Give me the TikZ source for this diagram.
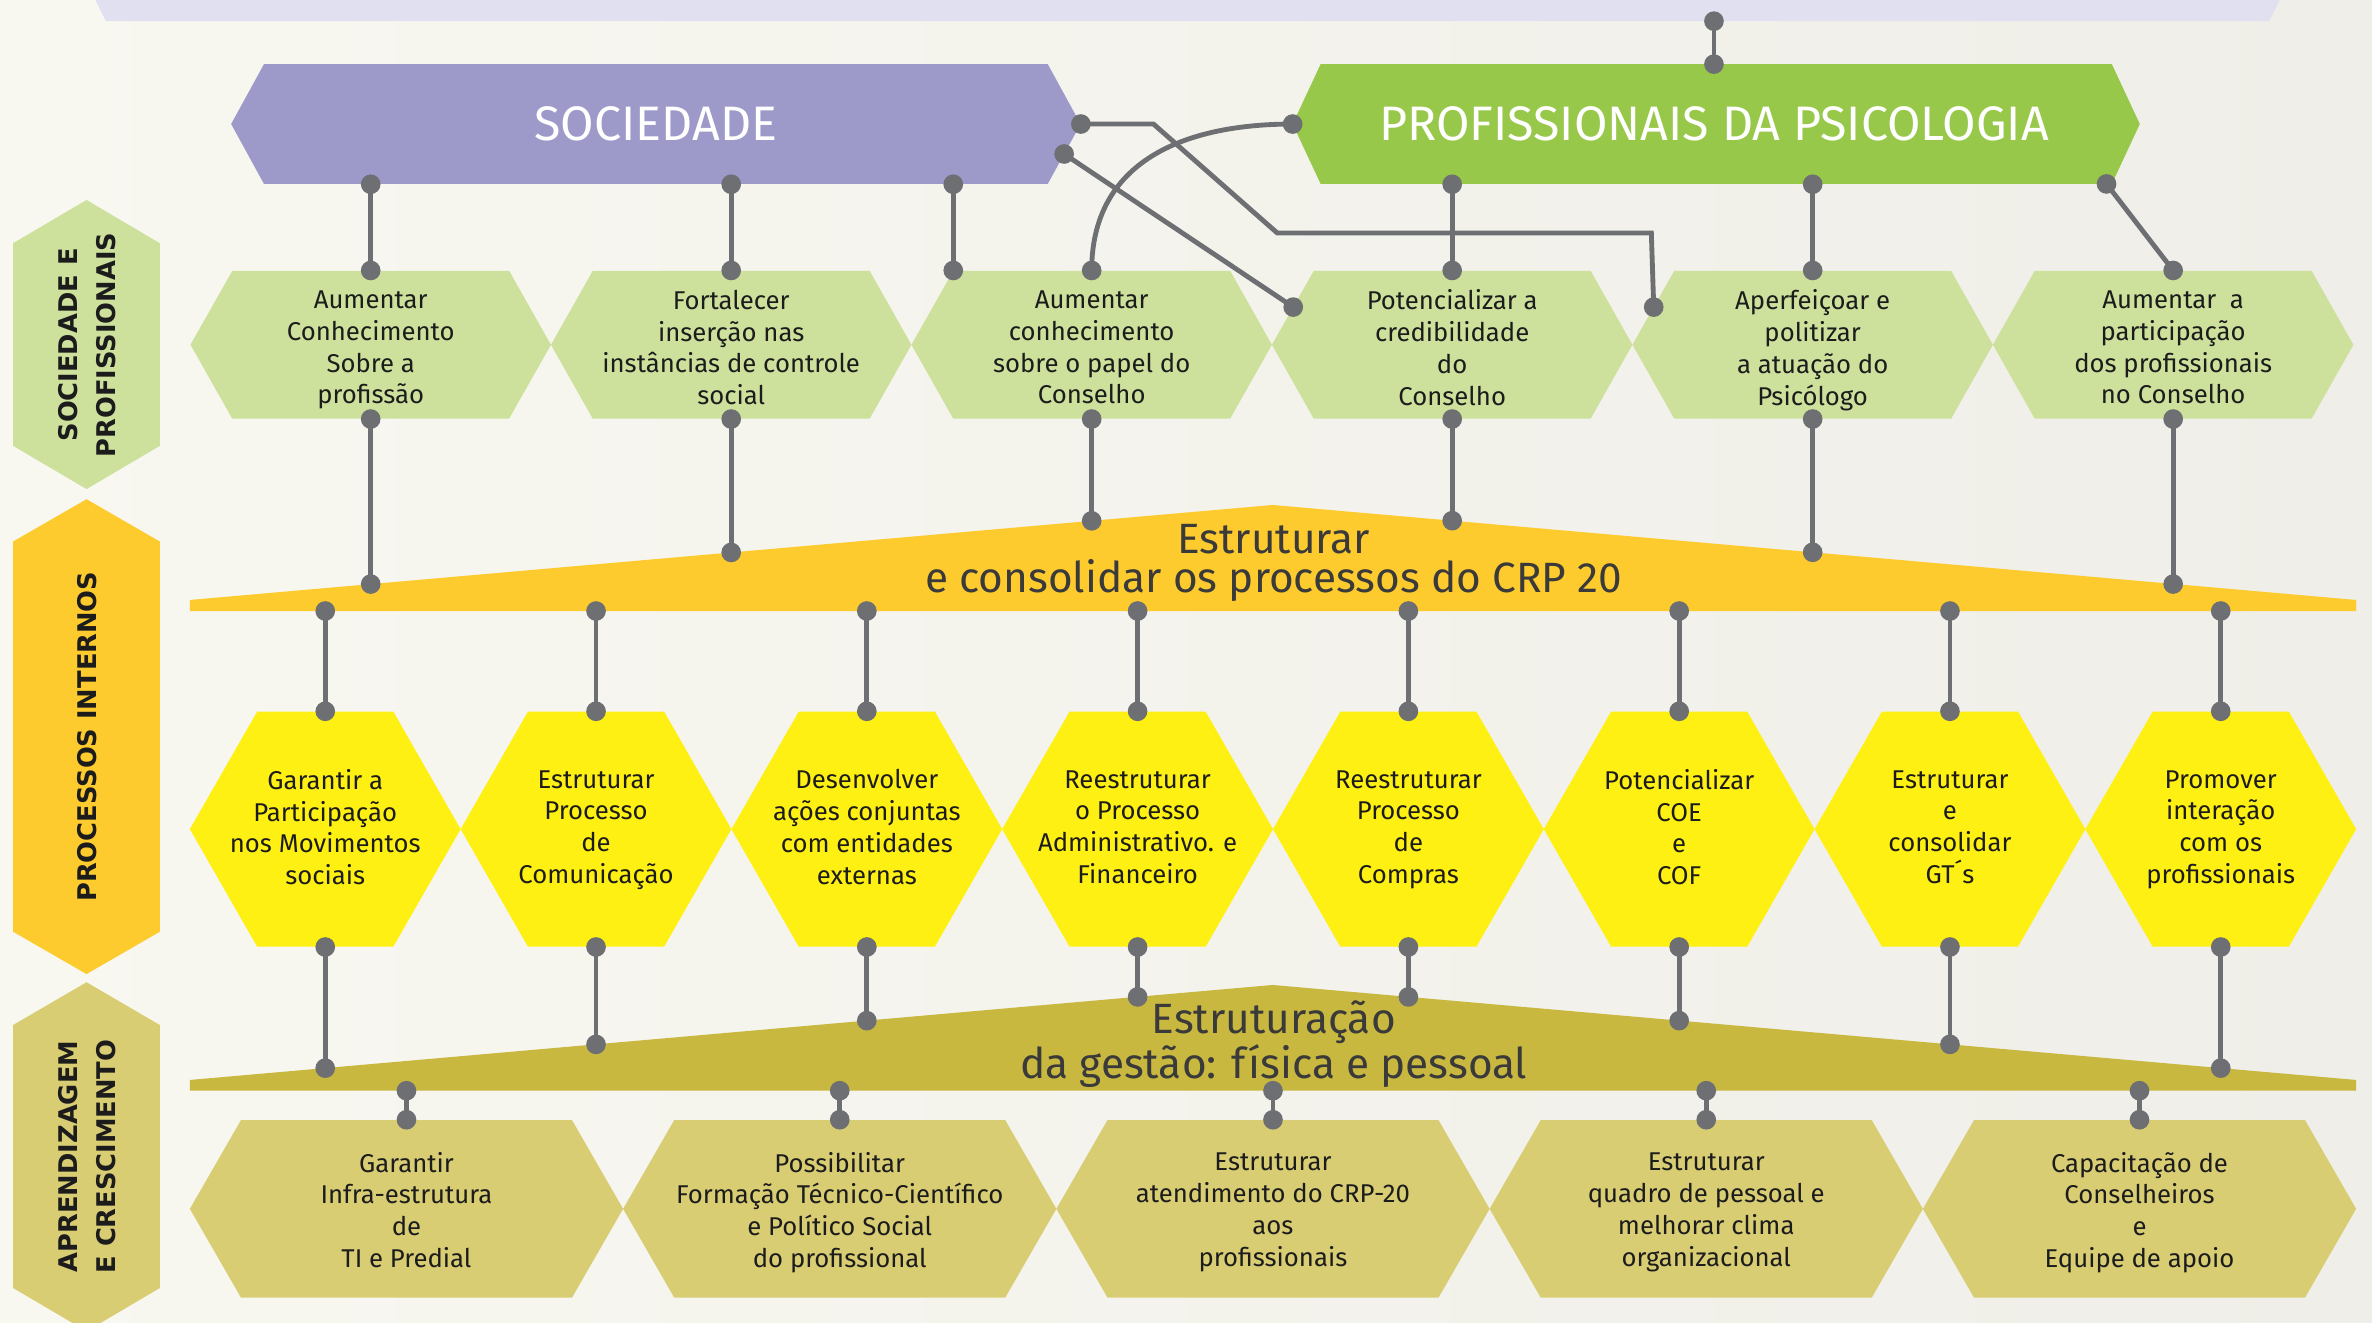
\documentclass[tikz,border=0pt]{standalone}
\usepackage{fontspec}
\setmainfont{Fira Sans}
\newfontfamily\sidefont{DejaVu Sans}
\usetikzlibrary{calc}
\definecolor{bgl}{HTML}{F8F8F1}
\definecolor{bgr}{HTML}{EFEEE8}
\definecolor{topc}{HTML}{E1E0F0}
\definecolor{socc}{HTML}{9D99C9}
\definecolor{profc}{HTML}{97C84A}
\definecolor{goalc}{HTML}{CDE19C}
\definecolor{orc}{HTML}{FECB2F}
\definecolor{yelc}{HTML}{FFF014}
\definecolor{olc}{HTML}{C9B83F}
\definecolor{olic}{HTML}{D9CD74}
\definecolor{linec}{HTML}{6E6F72}
\definecolor{txtc}{HTML}{1C1C1C}
\definecolor{bandtxtc}{HTML}{3A3A3A}
% cx cy halfwidth inset halfheight colour
\newcommand\hexshape[6]{\fill[#6] ({#1-#3},{#2}) -- ({#1-#3+#4},{#2-#5}) -- ({#1+#3-#4},{#2-#5}) -- ({#1+#3},{#2}) -- ({#1+#3-#4},{#2+#5}) -- ({#1-#3+#4},{#2+#5}) -- cycle;}
\newcommand\ghex[3]{\hexshape{#2}{227.9}{119.15}{27.65}{48.9}{goalc}\node[hbox,minimum width=238.3pt,minimum height=97.8pt] (#1) at (#2,227.9) {};\node[htxt] (#1t) at (#2,232.8) {#3};}
\newcommand\yhex[3]{\hexshape{#2}{548.1}{89.5}{44.5}{77.7}{yelc}\node[hbox,minimum width=179pt,minimum height=155.4pt] (#1) at (#2,548.1) {};\node[htxt] (#1t) at (#2,549.8) {#3};}
\newcommand\bhex[3]{\hexshape{#2}{799.1}{143.2}{33.8}{58.7}{olic}\node[hbox,minimum width=286.4pt,minimum height=117.4pt] (#1) at (#2,799.1) {};\node[htxt] (#1t) at (#2,802.8) {#3};}
\newcommand\dotat[1]{\fill[linec] (#1) circle (6.5pt);}
\newcommand\link[2]{\draw[conn] (#1) -- (#2);\dotat{#1}\dotat{#2}}
\begin{document}
\begin{tikzpicture}[x=1pt,y=-1pt,
  conn/.style={draw=linec,line width=3.2pt},
  hbox/.style={inner sep=0pt},
  htxt/.style={inner sep=0pt,align=center,text=txtc,font=\fontsize{17}{21}\selectfont,execute at begin node=\strut,execute at end node=\strut},
  titletxt/.style={inner sep=0pt,text=white,font=\fontsize{32}{36}\selectfont},
  bandtxt/.style={inner sep=0pt,align=center,text=bandtxtc,font=\fontsize{28}{26}\selectfont,execute at begin node=\strut,execute at end node=\strut},
  sidetxt/.style={inner sep=0pt,align=center,rotate=90,text=txtc,font=\sidefont\bfseries\fontsize{17}{25}\selectfont}]
\useasboundingbox (0,0) rectangle (1568,874);
\shade[left color=bgl,right color=bgr] (0,0) rectangle (1568,874);
% top band
\fill[topc] (62,-2) -- (1508,-2) -- (1500,14) -- (70,14) -- cycle;
% side labels
\fill[goalc] (57.2,132.2) -- (105.7,160.8) -- (105.7,294.7) -- (57.2,323.3) -- (8.6,294.7) -- (8.6,160.8) -- cycle;
\fill[orc] (57.2,330) -- (105.7,358) -- (105.7,615.9) -- (57.2,643.9) -- (8.6,615.9) -- (8.6,358) -- cycle;
\fill[olic] (57.2,649.3) -- (105.7,677.6) -- (105.7,851.4) -- (57.2,880) -- (8.6,851.4) -- (8.6,677.6) -- cycle;
\node[sidetxt] (lab1) at (57.5,228) {SOCIEDADE E\\PROFISSIONAIS};
\node[sidetxt] (lab2) at (57.5,487) {PROCESSOS INTERNOS};
\node[sidetxt] (lab3) at (57.5,764.5) {APRENDIZAGEM\\E CRESCIMENTO};
% perspectives
\hexshape{433.55}{82}{280.75}{21.7}{39.6}{socc}
\node[titletxt,minimum width=561.5pt,minimum height=79.2pt] (soc) at (433.55,82) {SOCIEDADE};
\hexshape{1134.5}{82}{280}{18.5}{39.6}{profc}
\node[titletxt,minimum width=560pt,minimum height=79.2pt] (prof) at (1133,82) {PROFISSIONAIS DA PSICOLOGIA};
% bands
\fill[orc] (125.5,396.6) -- (841.3,333.8) -- (1557.5,396.6) -- (1557.5,403.9) -- (125.5,403.9) -- cycle;
\node[bandtxt] (band1) at (842,373.1) {Estruturar\\e consolidar os processos do CRP 20};
\fill[olc] (125.5,713.9) -- (841.3,651.1) -- (1557.5,713.9) -- (1557.5,721) -- (125.5,721) -- cycle;
\node[bandtxt] (band2) at (842,691.1) {Estruturação\\da gestão: física e pessoal};
% goals row
\ghex{g1}{245.05}{Aumentar\\Conhecimento\\Sobre a\\profissão}
\ghex{g2}{483.35}{Fortalecer\\inserção nas\\instâncias de controle\\social}
\ghex{g3}{721.65}{Aumentar\\conhecimento\\sobre o papel do\\Conselho}
\ghex{g4}{959.95}{Potencializar a\\credibilidade\\do\\Conselho}
\ghex{g5}{1198.25}{Aperfeiçoar e\\politizar\\a atuação do\\Psicólogo}
\ghex{g6}{1436.55}{Aumentar\ \ a\\participação\\dos profissionais\\no Conselho}
% internal processes
\yhex{y1}{215}{Garantir a\\Participação\\nos Movimentos\\sociais}
\yhex{y2}{394}{Estruturar\\Processo\\de\\Comunicação}
\yhex{y3}{573}{Desenvolver\\ações conjuntas\\com entidades\\externas}
\yhex{y4}{752}{Reestruturar\\o Processo\\Administrativo. e\\Financeiro}
\yhex{y5}{931}{Reestruturar\\Processo\\de\\Compras}
\yhex{y6}{1110}{Potencializar\\COE\\e\\COF}
\yhex{y7}{1289}{Estruturar\\e\\consolidar\\GT´s}
\yhex{y8}{1468}{Promover\\interação\\com os\\profissionais}
% learning
\bhex{h1}{268.7}{Garantir\\Infra-estrutura\\de\\TI e Predial}
\bhex{h2}{555.1}{Possibilitar\\Formação Técnico-Científico\\e Político Social\\do profissional}
\bhex{h3}{841.5}{Estruturar\\atendimento do CRP-20\\aos\\profissionais}
\bhex{h4}{1127.9}{Estruturar\\quadro de pessoal e\\melhorar clima\\organizacional}
\bhex{h5}{1414.3}{Capacitação de\\Conselheiros\\e\\Equipe de apoio}
% named points
\coordinate (topb) at (1133,14);
\coordinate (proft) at (1133,42.4);
\coordinate (profw) at (854.5,82);
\coordinate (s1) at (g1.north |- soc.south);
\coordinate (s2) at (g2.north |- soc.south);
\coordinate (g3tl) at ($(g3.north)+(-91.5,0)$);
\coordinate (s3) at (g3tl |- soc.south);
\coordinate (s4) at ($(soc.center)+(269.9,19.8)$);
\coordinate (g4a) at ($(g4.center)+(-105.07,-24.9)$);
\coordinate (g5a) at ($(g5.center)+(-105.07,-24.9)$);
\coordinate (p1) at (g4.north |- prof.south);
\coordinate (p2) at (g5.north |- prof.south);
\coordinate (p3) at (1392.5,121.6);
\coordinate (o1) at (g1.south |- 0,386.1);
\coordinate (o2) at (g2.south |- 0,365.2);
\coordinate (o3) at (g3.south |- 0,344.3);
\coordinate (o4) at (g4.south |- 0,344.2);
\coordinate (o5) at (g5.south |- 0,365.1);
\coordinate (o6) at (g6.south |- 0,386.1);
\coordinate (ob) at (0,403.9);
\coordinate (l1) at (y1.south |- 0,706.1);
\coordinate (l2) at (y2.south |- 0,690.4);
\coordinate (l3) at (y3.south |- 0,674.7);
\coordinate (l4) at (y4.south |- 0,659.0);
\coordinate (l5) at (y5.south |- 0,659.0);
\coordinate (l6) at (y6.south |- 0,674.7);
\coordinate (l7) at (y7.south |- 0,690.4);
\coordinate (l8) at (y8.south |- 0,706.1);
\coordinate (lb) at (0,721);
% connectors
\link{topb}{proft}
\link{s1}{g1.north}
\link{s2}{g2.north}
\link{s3}{g3tl}
\draw[conn] (g3.north) .. controls ($(g3.north)+(0,-72)$) and ($(profw)+(-72,0)$) .. (profw);
\dotat{g3.north}\dotat{profw}
\draw[conn] (soc.east) -- ++(48,0) -- (844.3,154) -- (1091.6,154) -- (g5a);
\dotat{soc.east}\dotat{g5a}
\link{s4}{g4a}
\link{p1}{g4.north}
\link{p2}{g5.north}
\link{p3}{g6.north}
\foreach \i in {1,...,6} {\link{g\i.south}{o\i}}
\foreach \i in {1,...,8} {\link{y\i.north |- ob}{y\i.north}\link{y\i.south}{l\i}}
\foreach \i in {1,...,5} {\link{h\i.north |- lb}{h\i.north}}
\end{tikzpicture}
\end{document}
